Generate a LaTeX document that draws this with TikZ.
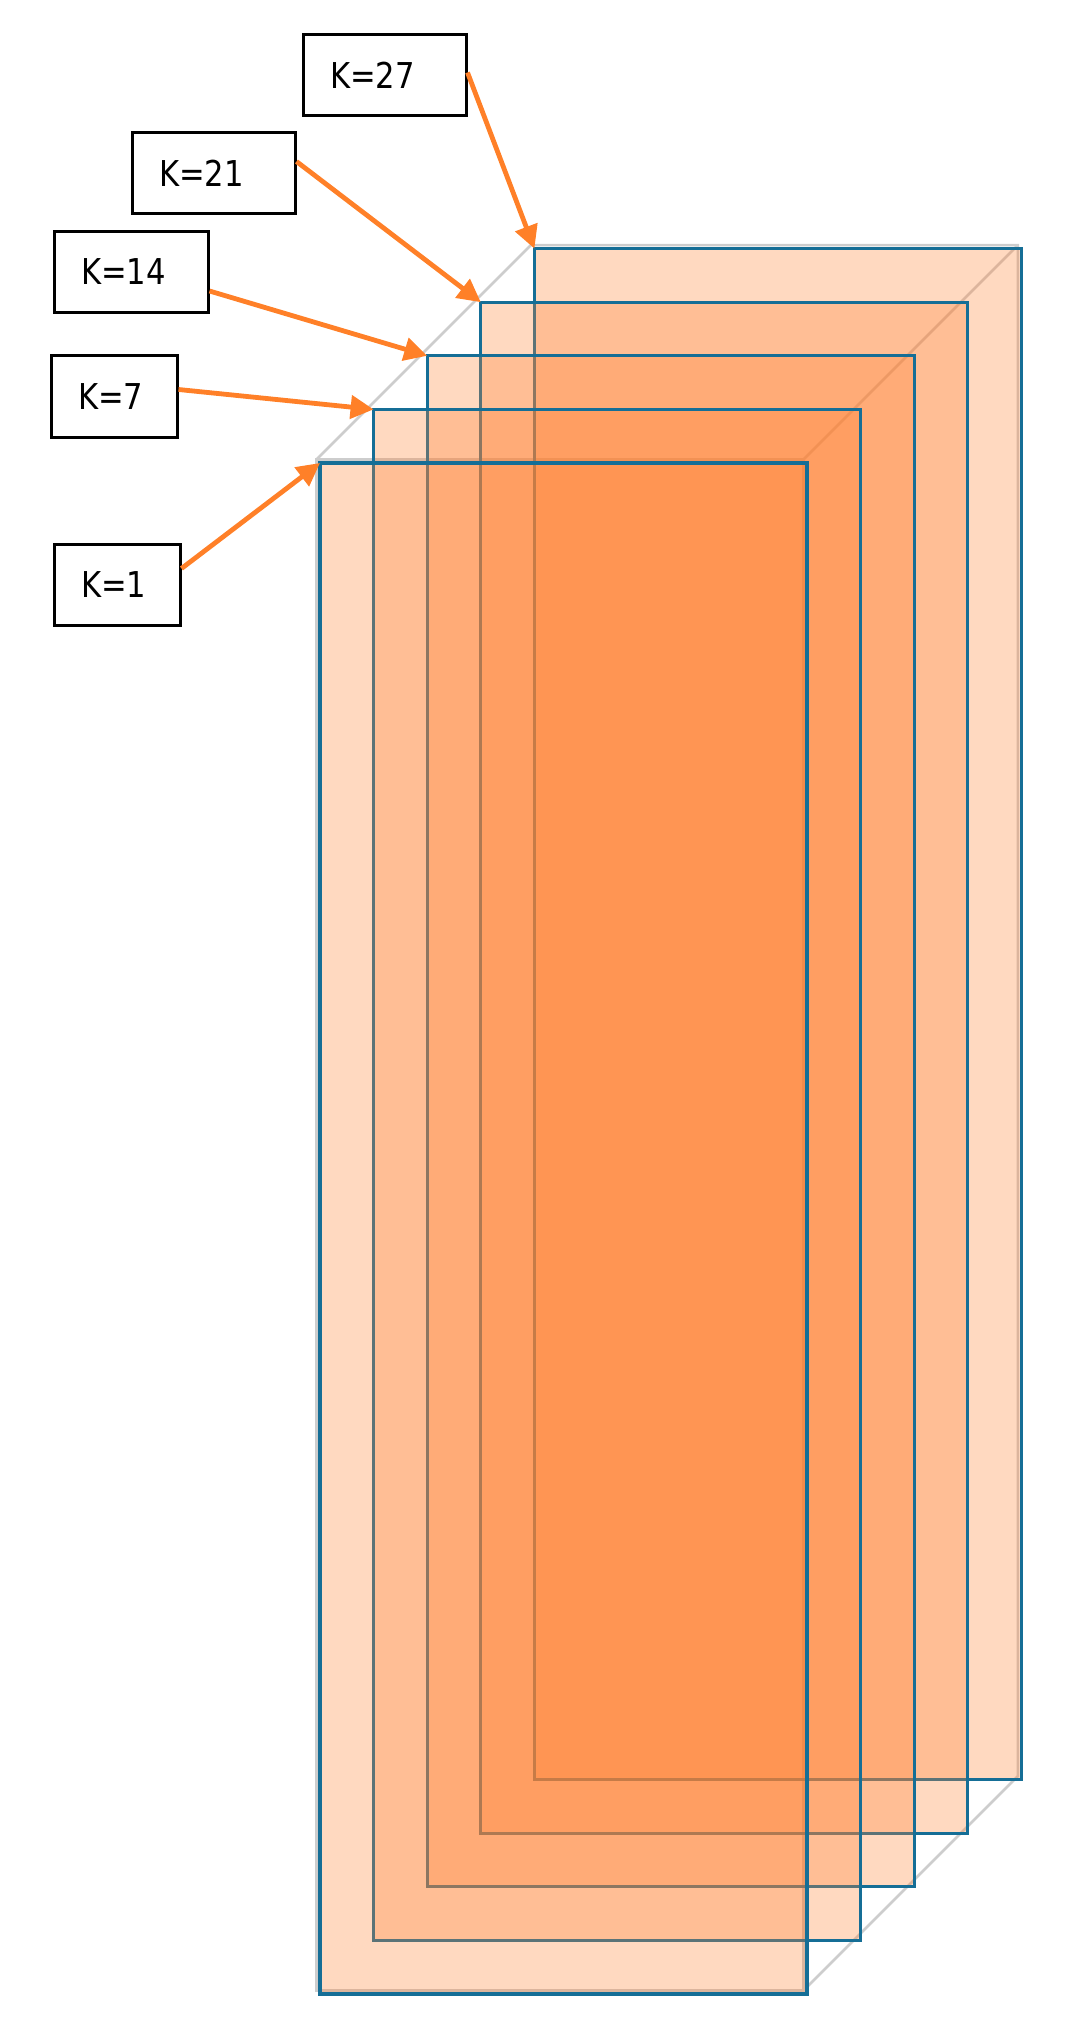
\documentclass[tikz,border=0pt]{standalone}
\usepackage{fontspec}
\usepackage{tikz}
\usetikzlibrary{arrows.meta, positioning}
\newfontfamily\boxfont{DejaVu Sans}[FakeStretch=0.86]
\definecolor{framecolor}{RGB}{21,110,150}
\definecolor{slicecolor}{RGB}{255,128,48}
\definecolor{pointercolor}{RGB}{255,128,40}
\definecolor{cubecolor}{RGB}{205,205,205}

\begin{document}
\begin{tikzpicture}[x=0.5pt, y=-0.5pt,
            kslice/.style={draw=framecolor, line width=1.6pt, fill=slicecolor, fill opacity=0.3},
            cubeline/.style={draw=cubecolor, line width=1.3pt},
            kbox/.style={draw, line width=1.5pt, font=\boxfont\fontsize{17.8pt}{21pt}\selectfont, align=left, inner xsep=13.5pt, inner ysep=0pt, minimum height=40.5pt},
            pointer/.style={draw=pointercolor, line width=2.4pt, -{Triangle[length=11.5pt, width=11.5pt]}}]
            \useasboundingbox (0,0) rectangle (1066,2038);
            \coordinate (c27) at (534.4,248.6);
            \coordinate (c21) at (480.8,302.2);
            \coordinate (c14) at (427.2,355.8);
            \coordinate (c7) at (373.6,409.4);
            \coordinate (c1) at (320,463);
            \draw[cubeline] (316.5,459.5) rectangle (803.5,1990.5);
            \draw[cubeline] (316.5,459.5) -- (530.9,245.1) -- (1017.9,245.1) -- (1017.9,1776.1) -- (803.5,1990.5);
            \draw[cubeline] (803.5,459.5) -- (1017.9,245.1);
            \draw[kslice] (c27) rectangle ++(487,1531);
            \draw[kslice] (c21) rectangle ++(487,1531);
            \draw[kslice] (c14) rectangle ++(487,1531);
            \draw[kslice] (c7) rectangle ++(487,1531);
            \draw[kslice] (c1) rectangle ++(487,1531);
            \node[kbox, text width=54.5pt] (27) at (384.5,75.5) {K=27};
            \node[kbox, text width=54.5pt] (21) at (213.5,173.5) {K=21};
            \node[kbox, text width=50pt] (14) at (131,272) {K=14};
            \node[kbox, text width=36pt] (7) at (114,396.5) {K=7};
            \node[kbox, text width=36pt] (1) at (117,584.5) {K=1};
            \draw[pointer] ([yshift=1.5pt]27.east) -- (c27);
            \draw[pointer] ([yshift=6pt]21.east) -- (c21);
            \draw[pointer] ([yshift=-9.5pt]14.east) -- (c14);
            \draw[pointer] ([yshift=3.5pt]7.east) -- (c7);
            \draw[pointer] ([yshift=8pt]1.east) -- (c1);
\end{tikzpicture}
\end{document}
